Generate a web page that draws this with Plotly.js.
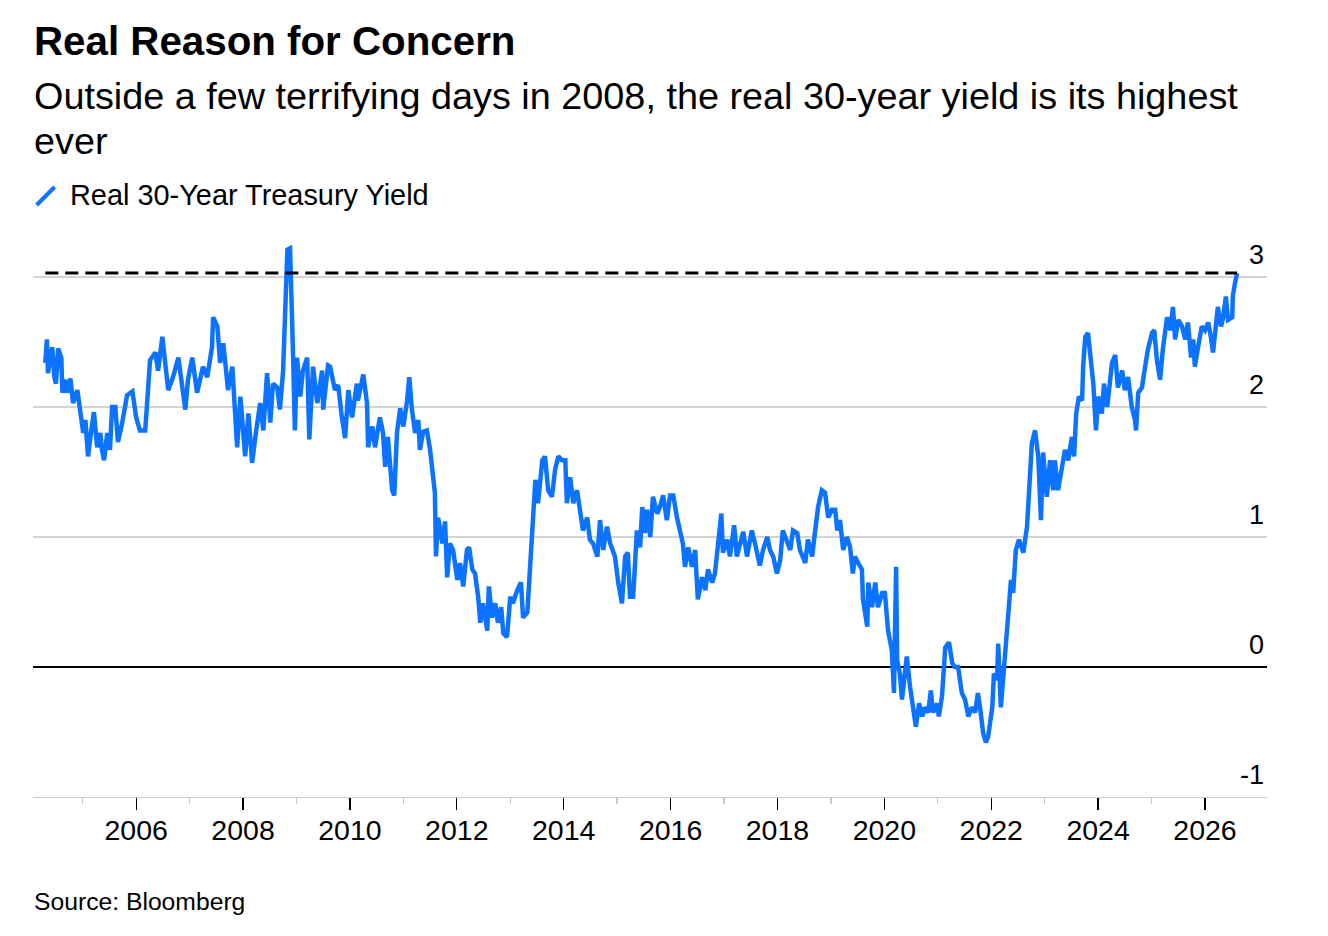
<!DOCTYPE html>
<html>
<head>
<meta charset="utf-8">
<script src="https://cdn.plot.ly/plotly-3.0.1.min.js"></script>
<style>
  html, body { margin: 0; padding: 0; background: #fff; }
  #chart { width: 1328px; height: 936px; }
</style>
</head>
<body>
<div id="chart"></div>
<script>
// ---- Data ----
const years = [
2004.30,2004.33,2004.35,2004.43,2004.47,2004.50,2004.54,2004.60,2004.62,2004.67,
2004.71,2004.77,2004.82,2004.90,2004.95,2005.01,2005.05,2005.10,2005.16,2005.21,
2005.27,2005.33,2005.36,2005.40,2005.46,2005.51,2005.55,2005.61,2005.66,2005.74,
2005.83,2005.93,2006.00,2006.07,2006.17,2006.21,2006.26,2006.36,2006.41,2006.49,
2006.54,2006.60,2006.69,2006.79,2006.92,2006.97,2007.05,2007.14,2007.25,2007.33,
2007.42,2007.44,2007.52,2007.57,2007.63,2007.72,2007.80,2007.85,2007.89,2007.95,
2008.04,2008.10,2008.17,2008.23,2008.32,2008.38,2008.45,2008.51,2008.56,2008.64,
2008.69,2008.75,2008.79,2008.83,2008.88,2008.92,2008.94,2008.97,2009.01,2009.07,
2009.12,2009.20,2009.24,2009.31,2009.39,2009.48,2009.50,2009.59,2009.63,2009.72,
2009.78,2009.85,2009.91,2009.97,2010.04,2010.13,2010.15,2010.25,2010.32,2010.34,
2010.42,2010.47,2010.56,2010.62,2010.66,2010.71,2010.79,2010.83,2010.88,2010.94,
2011.00,2011.07,2011.11,2011.16,2011.22,2011.28,2011.31,2011.37,2011.44,2011.50,
2011.54,2011.59,2011.61,2011.65,2011.73,2011.78,2011.82,2011.87,2011.93,2012.01,
2012.06,2012.12,2012.19,2012.23,2012.29,2012.34,2012.40,2012.44,2012.49,2012.57,
2012.60,2012.66,2012.72,2012.77,2012.83,2012.87,2012.94,2013.00,2013.05,2013.13,
2013.20,2013.24,2013.32,2013.37,2013.43,2013.47,2013.52,2013.60,2013.65,2013.71,
2013.78,2013.84,2013.90,2013.97,2014.03,2014.06,2014.12,2014.18,2014.25,2014.31,
2014.36,2014.44,2014.49,2014.55,2014.63,2014.68,2014.74,2014.81,2014.87,2014.96,
2015.02,2015.09,2015.15,2015.20,2015.24,2015.30,2015.37,2015.43,2015.47,2015.52,
2015.56,2015.62,2015.67,2015.75,2015.80,2015.86,2015.93,2015.99,2016.05,2016.12,
2016.18,2016.23,2016.27,2016.33,2016.40,2016.46,2016.51,2016.59,2016.65,2016.70,
2016.78,2016.83,2016.89,2016.95,2016.98,2017.06,2017.11,2017.19,2017.24,2017.30,
2017.36,2017.43,2017.52,2017.58,2017.67,2017.73,2017.81,2017.86,2017.92,2017.99,
2018.05,2018.10,2018.18,2018.24,2018.29,2018.37,2018.42,2018.52,2018.57,2018.65,
2018.70,2018.76,2018.83,2018.89,2018.95,2019.02,2019.08,2019.12,2019.17,2019.23,
2019.30,2019.36,2019.41,2019.45,2019.51,2019.58,2019.60,2019.68,2019.70,2019.77,
2019.83,2019.88,2019.96,2020.01,2020.07,2020.14,2020.18,2020.22,2020.24,2020.29,
2020.33,2020.37,2020.42,2020.48,2020.54,2020.59,2020.65,2020.71,2020.76,2020.82,
2020.87,2020.91,2020.99,2021.02,2021.08,2021.14,2021.21,2021.27,2021.32,2021.38,
2021.45,2021.51,2021.57,2021.64,2021.70,2021.75,2021.79,2021.85,2021.90,2021.94,
2022.02,2022.05,2022.11,2022.13,2022.18,2022.22,2022.28,2022.31,2022.37,2022.41,
2022.46,2022.52,2022.60,2022.67,2022.73,2022.76,2022.82,2022.88,2022.93,2022.97,
2023.04,2023.10,2023.16,2023.19,2023.25,2023.33,2023.38,2023.44,2023.51,2023.55,
2023.59,2023.64,2023.70,2023.72,2023.76,2023.81,2023.87,2023.91,2023.96,2024.00,
2024.07,2024.11,2024.17,2024.20,2024.26,2024.32,2024.37,2024.45,2024.50,2024.56,
2024.63,2024.69,2024.71,2024.75,2024.82,2024.88,2024.93,2025.01,2025.05,2025.10,
2025.16,2025.21,2025.29,2025.35,2025.40,2025.44,2025.50,2025.57,2025.63,2025.68,
2025.74,2025.78,2025.81,2025.87,2025.94,2026.00,2026.06,2026.11,2026.15,2026.21,
2026.24,2026.30,2026.34,2026.39,2026.43,2026.51,2026.52,2026.56,2026.60
];
const realYield = [
2.34,2.52,2.26,2.46,2.23,2.18,2.45,2.38,2.11,2.21,
2.11,2.22,2.03,2.13,1.98,1.80,1.90,1.62,1.82,1.96,
1.69,1.80,1.67,1.59,1.80,1.67,2.00,2.00,1.73,1.88,
2.09,2.12,1.92,1.82,1.82,2.05,2.36,2.42,2.28,2.54,
2.36,2.13,2.23,2.38,1.98,2.21,2.38,2.11,2.31,2.23,
2.46,2.69,2.62,2.34,2.49,2.13,2.31,1.92,1.69,2.08,
1.62,1.95,1.57,1.77,2.03,1.82,2.26,1.88,2.18,2.15,
1.98,2.28,2.90,3.21,3.22,2.72,2.34,1.82,2.38,2.08,
2.28,2.38,1.75,2.31,2.03,2.28,1.98,2.32,2.31,2.13,
2.17,1.92,1.76,2.13,1.92,2.18,2.05,2.25,2.03,1.69,
1.85,1.69,1.92,1.80,1.54,1.77,1.36,1.32,1.80,1.99,
1.85,2.05,2.23,1.98,1.80,1.90,1.67,1.81,1.82,1.67,
1.52,1.34,0.85,1.15,0.95,1.12,0.69,0.95,0.90,0.67,
0.80,0.62,0.90,0.92,0.75,0.72,0.54,0.34,0.49,0.28,
0.62,0.38,0.49,0.34,0.46,0.26,0.23,0.54,0.49,0.59,
0.65,0.38,0.42,0.75,1.21,1.44,1.26,1.59,1.62,1.36,
1.31,1.52,1.62,1.59,1.59,1.26,1.46,1.26,1.36,1.18,
1.05,1.15,0.98,0.95,0.85,1.13,0.90,1.08,0.95,0.85,
0.65,0.49,0.85,0.88,0.54,0.54,1.05,0.92,1.23,1.03,
1.21,1.00,1.31,1.18,1.23,1.32,1.13,1.32,1.32,1.15,
1.03,0.95,0.77,0.92,0.77,0.90,0.52,0.69,0.59,0.75,
0.65,0.72,0.95,1.18,0.88,0.98,0.85,1.09,0.85,0.95,
1.04,0.85,1.05,0.95,0.78,0.90,1.00,0.90,0.85,0.72,
0.82,1.05,0.95,0.90,1.05,1.03,0.90,0.80,0.98,0.85,
1.03,1.23,1.36,1.34,1.15,1.21,1.21,1.05,1.13,0.90,
1.00,0.92,0.72,0.85,0.80,0.75,0.52,0.31,0.65,0.46,
0.65,0.46,0.57,0.57,0.28,0.13,-0.20,0.77,0.05,-0.05,
-0.25,-0.10,0.08,-0.15,-0.31,-0.46,-0.28,-0.38,-0.31,-0.35,
-0.18,-0.35,-0.28,-0.38,-0.22,0.15,0.19,0.03,0.00,0.00,
-0.20,-0.25,-0.38,-0.31,-0.35,-0.20,-0.31,-0.51,-0.58,-0.54,
-0.31,-0.05,-0.10,0.18,-0.31,-0.10,0.21,0.38,0.67,0.57,
0.90,0.98,0.88,1.08,1.49,1.72,1.82,1.62,1.13,1.65,
1.31,1.59,1.36,1.59,1.36,1.54,1.67,1.59,1.77,1.62,
1.95,2.08,2.05,2.31,2.54,2.57,2.31,2.18,1.82,2.08,
1.95,2.18,2.00,2.11,2.34,2.40,2.15,2.28,2.13,2.23,
2.00,1.90,1.82,2.11,2.15,2.31,2.44,2.57,2.59,2.36,
2.21,2.44,2.69,2.59,2.77,2.52,2.67,2.62,2.52,2.65,
2.38,2.52,2.31,2.46,2.62,2.59,2.65,2.54,2.42,2.65,
2.77,2.62,2.69,2.85,2.67,2.69,2.85,2.95,3.03
];
const xTickYears = [2006,2008,2010,2012,2014,2016,2018,2020,2022,2024,2026];
const xTickLabels = ['2006','2008','2010','2012','2014','2016','2018','2020','2022','2024','2026'];
const xMinorYears = [2005,2007,2009,2011,2013,2015,2017,2019,2021,2023,2025];
const yTickValues = [-1,0,1,2,3];
const yTickLabels = ['-1','0','1','2','3'];

const seriesName = 'Real 30-Year Treasury Yield';
const titleText = 'Real Reason for Concern';
const subtitleLine1 = 'Outside a few terrifying days in 2008, the real 30-year yield is its highest';
const subtitleLine2 = 'ever';
const sourceText = 'Source: Bloomberg';

// ---- Styling ----
const FONT = '"Liberation Sans", Arial, Helvetica, sans-serif';
const BLUE = '#0b73ff';

const lastValue = realYield[realYield.length - 1];
const firstYear = years[0];
const lastYear = years[years.length - 1];

const traces = [
  {
    x: years, y: realYield, type: 'scatter', mode: 'lines', name: seriesName,
    line: { color: BLUE, width: 4.5, shape: 'linear' }, hoverinfo: 'skip'
  },
  {
    x: [firstYear, lastYear], y: [lastValue, lastValue], type: 'scatter', mode: 'lines',
    name: 'Latest level', line: { color: '#000', width: 3, dash: '13px,7px' },
    hoverinfo: 'skip', showlegend: false
  }
];

const layout = {
  width: 1328, height: 936,
  margin: { l: 33, r: 61, t: 225, b: 139 },
  paper_bgcolor: '#fff', plot_bgcolor: '#fff',
  showlegend: false,
  font: { family: FONT, color: '#000' },
  xaxis: {
    range: [2004.07, 2027.16],
    tickmode: 'array', tickvals: xTickYears, ticktext: xTickLabels,
    ticks: 'outside', ticklen: 12, tickwidth: 1.3, tickcolor: '#000',
    tickfont: { family: FONT, size: 28.5, color: '#000' },
    ticklabelstandoff: -5,
    showgrid: false, zeroline: false,
    showline: true, linecolor: '#cccccc', linewidth: 1.3,
    minor: { tickmode: 'array', tickvals: xMinorYears, ticks: 'outside', ticklen: 6,
             tickwidth: 1.3, tickcolor: '#c8c8c8', showgrid: false },
    fixedrange: true
  },
  yaxis: {
    range: [-1, 3.4], side: 'right',
    tickmode: 'array', tickvals: yTickValues, ticktext: yTickLabels,
    ticks: '', ticklabelposition: 'inside', ticklabelshift: -22, ticklabeloverflow: 'allow',
    tickfont: { family: FONT, size: 27, color: '#000' },
    showgrid: true, gridcolor: '#d3d3d3', gridwidth: 1.3,
    zeroline: true, zerolinecolor: '#000', zerolinewidth: 1.5,
    showline: false, fixedrange: true
  },
  shapes: [
    { type: 'line', xref: 'paper', yref: 'paper',
      x0: 0.003, y0: (797 - 205) / 572, x1: 0.0175, y1: (797 - 187) / 572,
      line: { color: BLUE, width: 4 } }
  ],
  annotations: [
    { text: '<b>' + titleText + '</b>', xref: 'paper', yref: 'paper', x: 0, y: (797 - 41.5) / 572,
      xanchor: 'left', yanchor: 'middle', showarrow: false, borderpad: 0,
      font: { family: FONT, size: 40.3, color: '#000' } },
    { text: subtitleLine1, xref: 'paper', yref: 'paper', x: 0, y: (797 - 96) / 572,
      xanchor: 'left', yanchor: 'middle', showarrow: false, borderpad: 0,
      font: { family: FONT, size: 37.8, color: '#000' } },
    { text: subtitleLine2, xref: 'paper', yref: 'paper', x: 0, y: (797 - 141.5) / 572,
      xanchor: 'left', yanchor: 'middle', showarrow: false, borderpad: 0,
      font: { family: FONT, size: 37.8, color: '#000' } },
    { text: seriesName, xref: 'paper', yref: 'paper', x: 36 / 1234, y: (797 - 195) / 572,
      xanchor: 'left', yanchor: 'middle', showarrow: false, borderpad: 0,
      font: { family: FONT, size: 28.9, color: '#000' } },
    { text: sourceText, xref: 'paper', yref: 'paper', x: 0, y: (797 - 901) / 572,
      xanchor: 'left', yanchor: 'middle', showarrow: false, borderpad: 0,
      font: { family: FONT, size: 24.7, color: '#000' } }
  ]
};

Plotly.newPlot('chart', traces, layout, { displayModeBar: false, staticPlot: true });
</script>
</body>
</html>
